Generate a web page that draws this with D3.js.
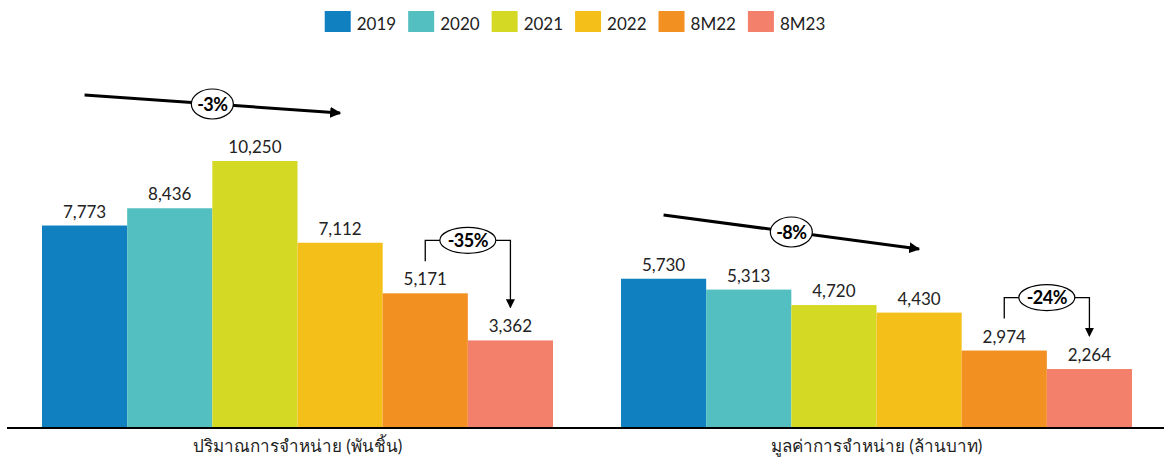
<!DOCTYPE html>
<html>
<head>
<meta charset="utf-8">
<script src="https://cdn.jsdelivr.net/npm/d3@7"></script>
<style>
  body { margin: 0; background: #fff; }
  svg { display: block; font-family: Lato, "Noto Sans", "Open Sans", sans-serif; }
</style>
</head>
<body>
<div id="chart"></div>
<script>
// data
const categories = ["ปริมาณการจำหน่าย (พันชิ้น)", "มูลค่าการจำหน่าย (ล้านบาท)"];
const seriesNames = ["2019", "2020", "2021", "2022", "8M22", "8M23"];
const volumeValues = [7773, 8436, 10250, 7112, 5171, 3362];
const salesValues = [5730, 5313, 4720, 4430, 2974, 2264];
const trendLabels = ["-3%", "-8%"];
const ytdLabels = ["-35%", "-24%"];
const colors = ["#1080C0", "#54BFC1", "#D4DA24", "#F5BF1A", "#F39022", "#F2806A"];

const width = 1164, height = 459;
const baseline = 428;

const groups = [volumeValues, salesValues];

const svg = d3.select("#chart")
    .append("svg")
    .attr("width", width)
    .attr("height", height);

const defs = svg.append("defs");
defs.append("marker")
    .attr("id", "headBig")
    .attr("markerUnits", "userSpaceOnUse")
    .attr("viewBox", "0 0 10 10")
    .attr("refX", 9).attr("refY", 5)
    .attr("markerWidth", 11).attr("markerHeight", 11)
    .attr("orient", "auto")
    .append("path").attr("d", "M0,0 L10,5 L0,10 z").attr("fill", "#000");
defs.append("marker")
    .attr("id", "headSmall")
    .attr("markerUnits", "userSpaceOnUse")
    .attr("viewBox", "0 0 10 10")
    .attr("refX", 9).attr("refY", 5)
    .attr("markerWidth", 9).attr("markerHeight", 9)
    .attr("orient", "auto")
    .append("path").attr("d", "M0,0 L10,5 L0,10 z").attr("fill", "#000");

// scales
const x0 = d3.scaleBand(categories, [42, 1132]).paddingInner(68 / 579);
const x1 = d3.scaleBand(seriesNames, [0, x0.bandwidth()]);
const color = d3.scaleOrdinal(seriesNames, colors);
const y = d3.scaleLinear([0, 10250], [baseline, 161]);

// bars
const groupSel = svg.selectAll(".grp")
    .data(categories)
    .join("g")
    .attr("class", "grp")
    .attr("transform", d => `translate(${x0(d)},0)`);

groupSel.selectAll("rect")
    .data((d, i) => groups[i].map((v, j) => ({ key: seriesNames[j], v })))
    .join("rect")
    .attr("x", d => x1(d.key))
    .attr("y", d => y(d.v))
    .attr("width", x1.bandwidth())
    .attr("height", d => y(0) - y(d.v))
    .attr("fill", d => color(d.key));

groupSel.selectAll("text.val")
    .data((d, i) => groups[i].map((v, j) => ({ key: seriesNames[j], v })))
    .join("text")
    .attr("class", "val")
    .attr("x", d => x1(d.key) + x1.bandwidth() / 2)
    .attr("y", d => y(d.v) - 8)
    .attr("text-anchor", "middle")
    .attr("font-size", 17)
    .attr("fill", "#222")
    .text(d => d3.format(",")(d.v));

// baseline axis
svg.append("line")
    .attr("x1", 7).attr("x2", width)
    .attr("y1", baseline).attr("y2", baseline)
    .attr("stroke", "#000").attr("stroke-width", 2);

svg.selectAll(".cat")
    .data(categories)
    .join("text")
    .attr("class", "cat")
    .attr("x", d => x0(d) + x0.bandwidth() / 2)
    .attr("y", 452)
    .attr("text-anchor", "middle")
    .attr("font-size", 17)
    .attr("fill", "#222")
    .text(d => d);

// trend arrows (first year to 2022)
const trendY = [[95, 113], [215, 249]];
categories.forEach((c, i) => {
    const xa = x0(c) + x1(seriesNames[0]) + x1.bandwidth() / 2;
    const xb = x0(c) + x1(seriesNames[3]) + x1.bandwidth() / 2;
    const [ya, yb] = trendY[i];
    svg.append("line")
        .attr("x1", xa).attr("y1", ya)
        .attr("x2", xb).attr("y2", yb)
        .attr("stroke", "#000").attr("stroke-width", 3)
        .attr("marker-end", "url(#headBig)");
    const cx = (xa + xb) / 2, cy = (ya + yb) / 2;
    svg.append("ellipse")
        .attr("cx", cx).attr("cy", cy)
        .attr("rx", 21).attr("ry", 15)
        .attr("fill", "#fff").attr("stroke", "#000").attr("stroke-width", 1.2);
    svg.append("text")
        .attr("x", cx).attr("y", cy + 6.5)
        .attr("text-anchor", "middle")
        .attr("font-size", 18).attr("font-weight", "bold")
        .attr("letter-spacing", -0.5)
        .text(trendLabels[i]);
});

// 8M22 -> 8M23 brackets
categories.forEach((c, i) => {
    const vals = groups[i];
    const xa = x0(c) + x1(seriesNames[4]) + x1.bandwidth() / 2;
    const xb = x0(c) + x1(seriesNames[5]) + x1.bandwidth() / 2;
    const top = y(vals[4]) - 53;
    svg.append("path")
        .attr("d", `M${xa},${y(vals[4]) - 32} V${top} H${xb} V${y(vals[5]) - 33}`)
        .attr("fill", "none")
        .attr("stroke", "#000").attr("stroke-width", 1.3)
        .attr("marker-end", "url(#headSmall)");
    const cx = (xa + xb) / 2;
    svg.append("ellipse")
        .attr("cx", cx).attr("cy", top)
        .attr("rx", 28).attr("ry", 13)
        .attr("fill", "#fff").attr("stroke", "#000").attr("stroke-width", 1.2);
    svg.append("text")
        .attr("x", cx).attr("y", top + 6.5)
        .attr("text-anchor", "middle")
        .attr("font-size", 18).attr("font-weight", "bold")
        .attr("letter-spacing", -0.5)
        .text(ytdLabels[i]);
});

// legend
const legend = svg.append("g");
let lx = 0;
seriesNames.forEach(s => {
    const g = legend.append("g").attr("transform", `translate(${lx},0)`);
    g.append("rect")
        .attr("x", 0).attr("y", 11)
        .attr("width", 26).attr("height", 21)
        .attr("fill", color(s));
    const t = g.append("text")
        .attr("x", 32).attr("y", 30)
        .attr("font-size", 17)
        .attr("fill", "#222")
        .text(s);
    lx += 32 + t.node().getComputedTextLength() + 12;
});
legend.attr("transform", `translate(${575 - (lx - 12) / 2},0)`);
</script>
</body>
</html>
